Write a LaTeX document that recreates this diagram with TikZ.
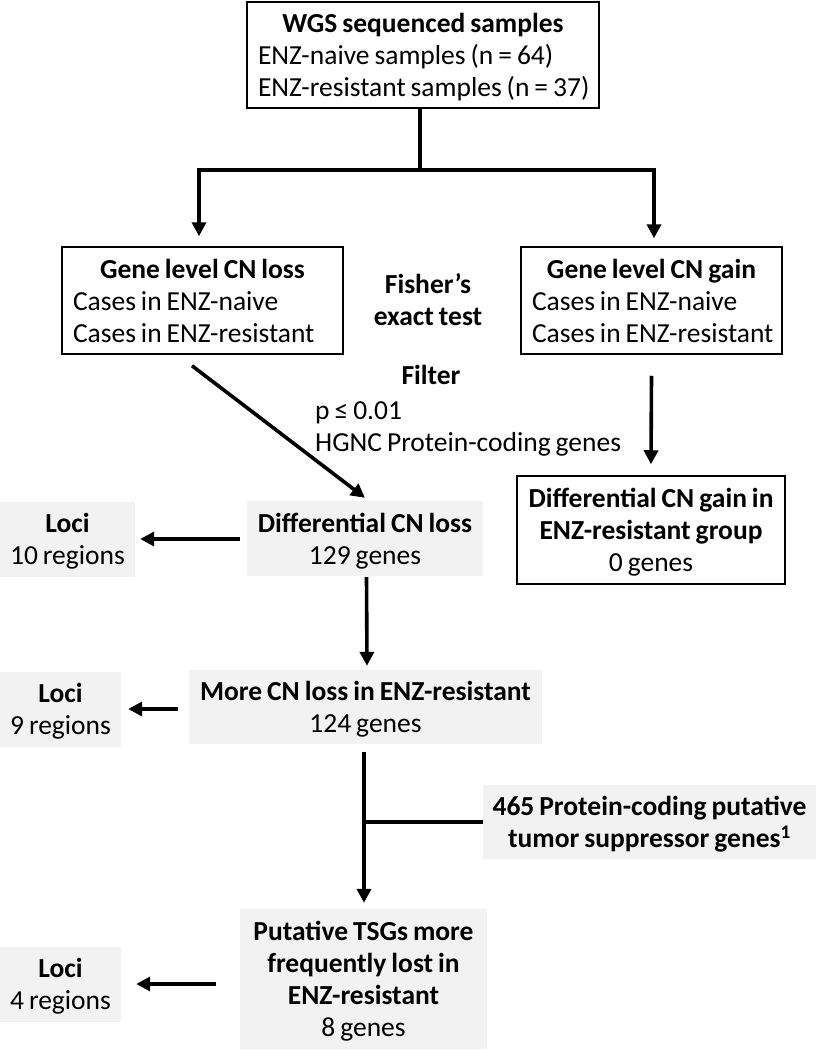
\documentclass[tikz,border=0pt]{standalone}
\usepackage{fontspec}
\setmainfont{Carlito}[WordSpace=0.8]
\usetikzlibrary{arrows.meta}
\definecolor{boxgray}{HTML}{F2F2F2}
\newcommand{\fsz}{\fontsize{27.5}{32}\selectfont}
\newcommand{\toprl}{\rule{0pt}{26pt}}
\newcommand{\botrl}{\rule[-7pt]{0pt}{0pt}}
\newcommand{\natsp}{\spaceskip=0pt\relax\xspaceskip=0pt\relax}
\tikzset{
  base/.style={font=\fsz, inner sep=0pt, text=black},
  boldtext/.style={font=\fsz\bfseries, inner sep=0pt, text=black},
  framed/.style={base, draw=black, line width=1.5pt, fill=white},
  listbox/.style={framed, align=left},
  graybox/.style={base, fill=boxgray, align=center},
  arr/.style={line width=3.6pt, -{Triangle[length=14pt,width=14pt]}},
  plainline/.style={line width=3.6pt},
}
\begin{document}
\begin{tikzpicture}[x=1pt,y=-1pt]
\fill[white] (0,0) rectangle (816,1050);
\useasboundingbox (0,0) rectangle (816,1050);

% boxes
\node[listbox, text width=330pt, minimum width=352pt, minimum height=106pt] (wgs) at (423,55)
  {\natsp\toprl\makebox[\linewidth][c]{\bfseries WGS sequenced samples}\\ \mbox{ENZ-naive samples (n = 64)}\\ \mbox{ENZ-resistant samples (n = 37)}\botrl};

\node[listbox, text width=259pt, minimum width=281pt, minimum height=107pt] (lossbox) at (202.5,300.5)
  {\natsp\toprl\makebox[\linewidth][c]{\bfseries Gene level CN loss}\\ \mbox{Cases in ENZ-naive}\\ \mbox{Cases in ENZ-resistant}\botrl};

\node[listbox, text width=239pt, minimum width=261pt, minimum height=107pt] (gainbox) at (651.5,300.5)
  {\natsp\toprl\makebox[\linewidth][c]{\bfseries Gene level CN gain}\\ \mbox{Cases in ENZ-naive}\\ \mbox{Cases in ENZ-resistant}\botrl};

\node[boldtext, align=center] (fisher) at (428,300) {\toprl Fisher’s\\exact test\botrl};
\node[boldtext] (filterhead) at (431,375) {Filter};
\node[base, align=left, anchor=west] (filtertext) at (315,426) {\toprl p ≤ 0.01\\HGNC Protein-coding genes\botrl};

\node[framed, align=center, minimum width=268pt, minimum height=108pt] (gain2) at (651,530)
  {\toprl\textbf{Differential CN gain in}\\ \textbf{ENZ-resistant group}\\ 0 genes\botrl};

\node[graybox, minimum width=236pt, minimum height=75pt] (diffloss) at (365,538.5)
  {\toprl\textbf{Differential CN loss}\\ 129 genes\botrl};
\node[graybox, minimum width=135pt, minimum height=75pt] (loci1) at (67.5,539)
  {\toprl\textbf{Loci}\\ 10 regions\botrl};

\node[graybox, minimum width=353pt, minimum height=74pt] (more) at (365.5,707)
  {\toprl\textbf{More CN loss in ENZ-resistant}\\ 124 genes\botrl};
\node[graybox, minimum width=121pt, minimum height=75pt] (loci2) at (60.5,709)
  {\toprl\textbf{Loci}\\ 9 regions\botrl};

\node[graybox, minimum width=333pt, minimum height=74pt] (tsg) at (649.5,822)
  {\toprl\textbf{465 Protein-coding putative}\\ \textbf{tumor suppressor genes\textsuperscript{1}}\botrl};

\node[graybox, minimum width=247pt, minimum height=140pt] (putative) at (363.5,979)
  {\toprl\textbf{Putative TSGs more}\\ \textbf{frequently lost in}\\ \textbf{ENZ-resistant}\\ 8 genes\botrl};
\node[graybox, minimum width=121pt, minimum height=75pt] (loci3) at (60.5,984)
  {\toprl\textbf{Loci}\\ 4 regions\botrl};

% connectors
\coordinate (jm) at (420,170);
\draw[plainline] (wgs.south -| jm) -- (jm);
\draw[arr, shorten >=10pt] (jm) -| ([xshift=-3.5pt]lossbox.north);
\draw[arr, shorten >=8pt] (jm) -| ([xshift=2.5pt]gainbox.north);

\draw[arr] ([shift={(-10.5,11)}]lossbox.south) -- ([shift={(0,-3)}]diffloss.north);
\draw[arr] ([shift={(0,21)}]gainbox.south) -- ([shift={(0,-11)}]gain2.north);

\draw[arr] ([shift={(-7,0.5)}]diffloss.west) -- ([shift={(5,0)}]loci1.east);
\draw[arr] ([shift={(1.5,1)}]diffloss.south) -- ([shift={(1.5,-4)}]more.north);
\draw[arr] ([shift={(-11,2)}]more.west) -- ([shift={(7,0)}]loci2.east);

\coordinate (m1) at ([shift={(-1.5,8)}]more.south);
\draw[arr, shorten >=6pt] (m1) -- (m1 |- putative.north);
\draw[plainline] (m1 |- tsg.west) -- (tsg.west);

\draw[arr] ([shift={(-24,5)}]putative.west) -- ([shift={(15,0)}]loci3.east);
\end{tikzpicture}
\end{document}
